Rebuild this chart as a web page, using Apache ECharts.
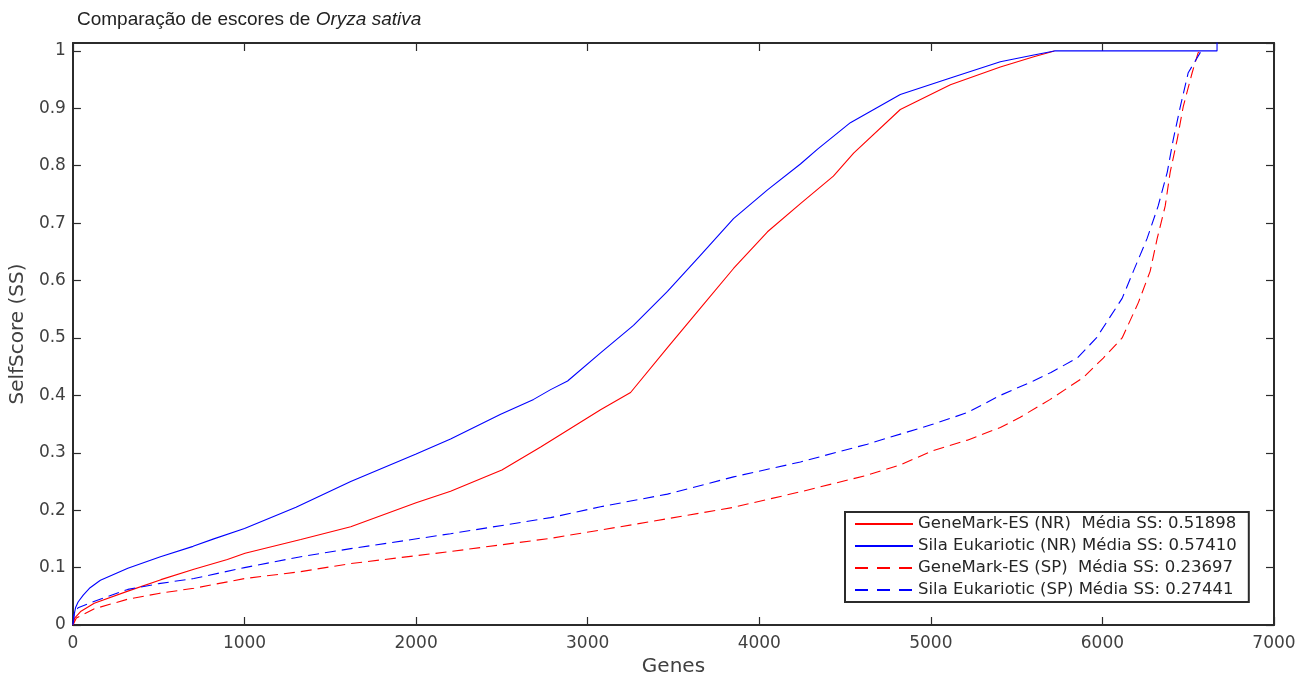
<!DOCTYPE html>
<html>
<head>
<meta charset="utf-8">
<script src="https://cdn.jsdelivr.net/npm/echarts@6/dist/echarts.min.js"></script>
<style>
  html, body { margin: 0; padding: 0; background: #fff; }
  #chart { width: 1308px; height: 682px; }
</style>
</head>
<body>
<div id="chart"></div>
<script>
// Cumulative SelfScore curves: genes sorted by score (x) vs. SelfScore (y)
const seriesNames = ['GeneMark-ES (NR)', 'Sila Eukariotic (NR)', 'GeneMark-ES (SP)', 'Sila Eukariotic (SP)'];
const meanSS = ['0.51898', '0.57410', '0.23697', '0.27441'];
const namePad = ['  ', ' ', '  ', ' '];

const gmNrGenes = [0, 10, 47, 124, 320, 513, 705, 900, 1003, 1328, 1619, 2000, 2201, 2500, 2726, 3075, 3250, 3465, 3657, 3850, 4048, 4240, 4432, 4550, 4822, 5114, 5405, 5600, 5720];
const gmNrSS    = [0, 0.012, 0.024, 0.038, 0.059, 0.079, 0.097, 0.114, 0.125, 0.149, 0.171, 0.213, 0.233, 0.27, 0.31, 0.375, 0.405, 0.483, 0.552, 0.621, 0.685, 0.734, 0.782, 0.822, 0.898, 0.941, 0.972, 0.99, 1.0];

const silaNrGenes = [0, 5, 15, 30, 60, 100, 160, 320, 510, 700, 821, 1000, 1300, 1619, 2000, 2201, 2493, 2685, 2784, 2883, 3075, 3267, 3465, 3657, 3850, 4048, 4240, 4340, 4531, 4822, 5114, 5405, 5600, 5720, 6668, 6668];
const silaNrSS    = [0, 0.015, 0.03, 0.04, 0.052, 0.065, 0.078, 0.099, 0.119, 0.137, 0.15, 0.168, 0.205, 0.25, 0.298, 0.324, 0.367, 0.393, 0.41, 0.425, 0.474, 0.522, 0.581, 0.644, 0.708, 0.758, 0.803, 0.829, 0.875, 0.924, 0.953, 0.981, 0.993, 1.0, 1.0, 1.03];

const gmSpGenes = [0, 20, 122, 320, 500, 705, 1003, 1328, 1619, 2201, 2784, 3267, 3850, 4240, 4630, 4822, 5015, 5213, 5405, 5521, 5696, 5888, 6005, 6115, 6210, 6278, 6319, 6366, 6395, 6436, 6471, 6523, 6558, 6575];
const gmSpSS    = [0, 0.012, 0.028, 0.045, 0.055, 0.064, 0.081, 0.093, 0.107, 0.128, 0.151, 0.175, 0.205, 0.232, 0.261, 0.279, 0.304, 0.322, 0.344, 0.362, 0.393, 0.431, 0.465, 0.5, 0.562, 0.616, 0.673, 0.73, 0.789, 0.846, 0.903, 0.962, 0.997, 1.0];

const silaSpGenes = [0, 8, 30, 122, 320, 500, 705, 1000, 1328, 1619, 2201, 2784, 3075, 3465, 3850, 4240, 4630, 5015, 5213, 5405, 5597, 5700, 5853, 5965, 6115, 6180, 6260, 6325, 6378, 6413, 6454, 6500, 6570, 6585];
const silaSpSS    = [0, 0.02, 0.03, 0.041, 0.062, 0.072, 0.081, 0.1, 0.119, 0.133, 0.159, 0.187, 0.206, 0.228, 0.258, 0.284, 0.315, 0.35, 0.37, 0.40, 0.425, 0.44, 0.465, 0.5, 0.569, 0.616, 0.673, 0.73, 0.789, 0.846, 0.903, 0.962, 0.997, 1.0];

const xTicks = { min: 0, max: 7000, interval: 1000 };
const yTicks = { min: 0, max: 1.0138, interval: 0.1 };

const zip = (xs, ys) => xs.map((x, i) => [x, ys[i]]);
const curves = [
  { data: zip(gmNrGenes, gmNrSS), color: '#ff0000', type: 'solid', keyType: 'solid' },
  { data: zip(silaNrGenes, silaNrSS), color: '#0000ff', type: 'solid', keyType: 'solid' },
  { data: zip(gmSpGenes, gmSpSS), color: '#ff0000', type: [11, 6], keyType: [13, 9] },
  { data: zip(silaSpGenes, silaSpSS), color: '#0000ff', type: [11, 6], keyType: [13, 9] }
];
const legendNames = seriesNames.map((n, i) => n + namePad[i] + 'Média SS: ' + meanSS[i]);

const axisColor = '#2b2b2b';
const labelFont = { fontFamily: 'DejaVu Sans', fontSize: 17, color: '#404040' };

const chart = echarts.init(document.getElementById('chart'), null, { renderer: 'canvas' });
chart.setOption({
  animation: false,
  backgroundColor: '#ffffff',
  title: {
    text: '{a|Comparação de escores de }{b|Oryza sativa}',
    left: 72,
    top: 5,
    textStyle: {
      rich: {
        a: { fontFamily: 'Liberation Sans', fontSize: 19, fontWeight: 'normal', color: '#222' },
        b: { fontFamily: 'Liberation Sans', fontSize: 19, fontWeight: 'normal', color: '#222', fontStyle: 'italic' }
      }
    }
  },
  grid: { left: 72, right: 34, top: 43, bottom: 53, containLabel: false },
  legend: {
    orient: 'vertical',
    left: 845,
    top: 512,
    padding: [3, 12, 3, 9],
    itemWidth: 58,
    itemHeight: 14,
    itemGap: 4,
    borderColor: '#2b2b2b',
    borderWidth: 2,
    backgroundColor: '#fff',
    data: legendNames.map((n, i) => ({ name: n, lineStyle: { type: curves[i].keyType } })),
    itemStyle: { opacity: 0 },
    textStyle: { fontFamily: 'DejaVu Sans', fontSize: 16.5, color: '#262626', lineHeight: 18 }
  },
  xAxis: [
    {
      type: 'value', position: 'bottom', ...xTicks,
      name: 'Genes', nameLocation: 'middle', nameGap: 32,
      nameTextStyle: { fontFamily: 'DejaVu Sans', fontSize: 20, color: '#404040' },
      axisLine: { show: true, onZero: false, lineStyle: { color: axisColor, width: 2 } },
      axisTick: { show: true, inside: true, length: 8, lineStyle: { color: axisColor, width: 1.2 } },
      axisLabel: { ...labelFont, margin: 10, formatter: v => String(v) },
      splitLine: { show: false }
    },
    {
      type: 'value', position: 'top', ...xTicks,
      axisLine: { show: true, onZero: false, lineStyle: { color: axisColor, width: 2 } },
      axisTick: { show: true, inside: true, length: 8, lineStyle: { color: axisColor, width: 1.2 } },
      axisLabel: { show: false },
      splitLine: { show: false }
    }
  ],
  yAxis: [
    {
      type: 'value', position: 'left', ...yTicks,
      name: 'SelfScore (SS)', nameLocation: 'middle', nameGap: 42,
      nameTextStyle: { fontFamily: 'DejaVu Sans', fontSize: 20, color: '#404040' },
      axisLine: { show: true, onZero: false, lineStyle: { color: axisColor, width: 2 } },
      axisTick: { show: true, inside: true, length: 8, lineStyle: { color: axisColor, width: 1.2 } },
      axisLabel: { ...labelFont, margin: 7, showMaxLabel: false, formatter: v => String(Math.round(v * 10) / 10) },
      splitLine: { show: false }
    },
    {
      type: 'value', position: 'right', ...yTicks,
      axisLine: { show: true, onZero: false, lineStyle: { color: axisColor, width: 2 } },
      axisTick: { show: true, inside: true, length: 8, lineStyle: { color: axisColor, width: 1.2 } },
      axisLabel: { show: false },
      splitLine: { show: false }
    }
  ],
  series: curves.map((c, i) => ({
    name: legendNames[i],
    type: 'line',
    xAxisIndex: 0,
    yAxisIndex: 0,
    data: c.data,
    symbol: 'none',
    showSymbol: false,
    clip: true,
    itemStyle: { color: c.color },
    lineStyle: { color: c.color, width: 1.1, type: c.type },
    emphasis: { disabled: true }
  }))
});
</script>
</body>
</html>
